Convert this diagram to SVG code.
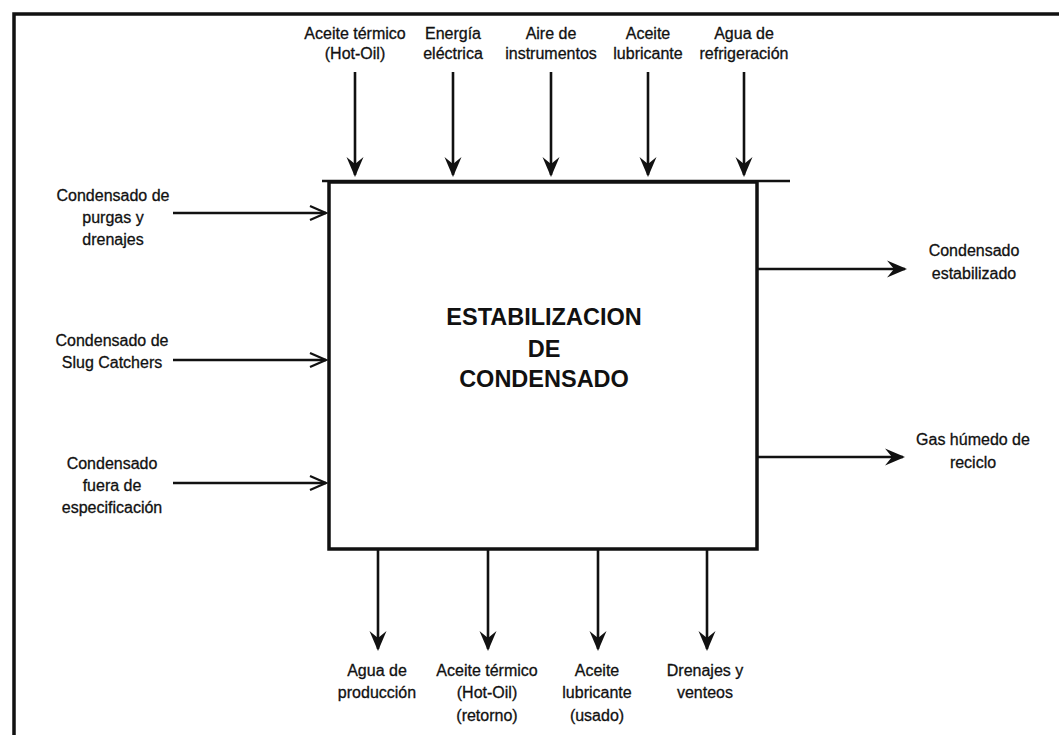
<svg xmlns="http://www.w3.org/2000/svg" width="1059" height="735" viewBox="0 0 1059 735">
<style>
.lbl{font-family:"Liberation Sans",Arial,sans-serif;font-size:16px;fill:#111;stroke:#111;stroke-width:0.3;text-anchor:middle}
.ttl{font-family:"Liberation Sans",Arial,sans-serif;font-size:23.5px;font-weight:bold;fill:#111;text-anchor:middle}
.ln{stroke:#111;stroke-width:2.6;fill:none}
.fill{marker-end:url(#ahf)}
.open{marker-end:url(#aho)}
</style>
<defs>
<marker id="ahf" markerUnits="userSpaceOnUse" orient="auto" overflow="visible" refX="0" refY="0" markerWidth="1" markerHeight="1">
<path d="M2,0 L-18,-8.5 L-11,0 L-18,8.5 Z" fill="#111"/>
</marker>
<marker id="aho" markerUnits="userSpaceOnUse" orient="auto" overflow="visible" refX="0" refY="0" markerWidth="1" markerHeight="1">
<path d="M-16,-7 L0,0 L-16,7" fill="none" stroke="#111" stroke-width="2.2"/>
</marker>
</defs>
<rect width="1059" height="735" fill="#fff"/>
<g id="frame">
<path d="M14,740 L14,14 L1065,14" fill="none" stroke="#111" stroke-width="3.5"/>
</g>
<g id="process">
<rect x="329" y="182" width="428" height="367" fill="#fff" stroke="#111" stroke-width="3.5"/>
<line x1="322" y1="181" x2="790" y2="181" stroke="#111" stroke-width="2.5"/>
<text class="ttl" x="544" y="325">ESTABILIZACION</text>
<text class="ttl" x="544" y="357">DE</text>
<text class="ttl" x="544" y="387">CONDENSADO</text>
</g>
<g id="connectors">
<line class="ln fill" x1="355" y1="72" x2="355" y2="175"/>
<line class="ln fill" x1="453" y1="72" x2="453" y2="175"/>
<line class="ln fill" x1="551" y1="72" x2="551" y2="175"/>
<line class="ln fill" x1="648" y1="72" x2="648" y2="175"/>
<line class="ln fill" x1="744" y1="72" x2="744" y2="175"/>
<line class="ln open" x1="173" y1="213" x2="326" y2="213"/>
<line class="ln open" x1="173" y1="360" x2="326" y2="360"/>
<line class="ln open" x1="173" y1="483" x2="326" y2="483"/>
<line class="ln fill" x1="757" y1="269" x2="905" y2="269"/>
<line class="ln fill" x1="757" y1="457" x2="903" y2="457"/>
<line class="ln fill" x1="378" y1="550" x2="378" y2="649"/>
<line class="ln fill" x1="488" y1="550" x2="488" y2="649"/>
<line class="ln fill" x1="598" y1="550" x2="598" y2="649"/>
<line class="ln fill" x1="707" y1="550" x2="707" y2="649"/>
</g>
<g id="in-hotoil"><text class="lbl" x="355" y="38.5">Aceite térmico</text><text class="lbl" x="355" y="58.5">(Hot-Oil)</text></g>
<g id="in-energia"><text class="lbl" x="453" y="38.5">Energía</text><text class="lbl" x="453" y="58.5">eléctrica</text></g>
<g id="in-aire"><text class="lbl" x="551" y="38.5">Aire de</text><text class="lbl" x="551" y="58.5">instrumentos</text></g>
<g id="in-lubricante"><text class="lbl" x="648" y="38.5">Aceite</text><text class="lbl" x="648" y="58.5">lubricante</text></g>
<g id="in-agua"><text class="lbl" x="744" y="38.5">Agua de</text><text class="lbl" x="744" y="58.5">refrigeración</text></g>
<g id="in-purgas"><text class="lbl" x="113" y="200.5">Condensado de</text><text class="lbl" x="113" y="222.5">purgas y</text><text class="lbl" x="113" y="244.5">drenajes</text></g>
<g id="in-slug"><text class="lbl" x="112" y="345.5">Condensado de</text><text class="lbl" x="112" y="367.5">Slug Catchers</text></g>
<g id="in-fuera"><text class="lbl" x="112" y="468.5">Condensado</text><text class="lbl" x="112" y="490.5">fuera de</text><text class="lbl" x="112" y="512.5">especificación</text></g>
<g id="out-estab"><text class="lbl" x="974" y="255.5">Condensado</text><text class="lbl" x="974" y="278.5">estabilizado</text></g>
<g id="out-gas"><text class="lbl" x="973" y="444.5">Gas húmedo de</text><text class="lbl" x="973" y="467.5">reciclo</text></g>
<g id="out-agua"><text class="lbl" x="377" y="675.5">Agua de</text><text class="lbl" x="377" y="698">producción</text></g>
<g id="out-hotoil"><text class="lbl" x="487" y="675.5">Aceite térmico</text><text class="lbl" x="487" y="698">(Hot-Oil)</text><text class="lbl" x="487" y="720.5">(retorno)</text></g>
<g id="out-lubricante"><text class="lbl" x="597" y="675.5">Aceite</text><text class="lbl" x="597" y="698">lubricante</text><text class="lbl" x="597" y="720.5">(usado)</text></g>
<g id="out-drenajes"><text class="lbl" x="705" y="675.5">Drenajes y</text><text class="lbl" x="705" y="698">venteos</text></g>
</svg>
